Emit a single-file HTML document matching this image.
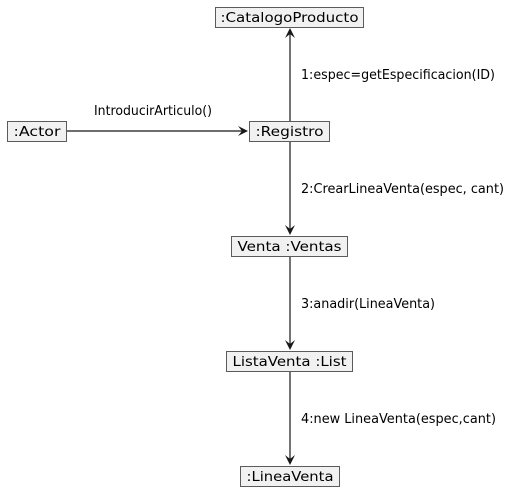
<!DOCTYPE html>
<html><head><meta charset="utf-8"><style>
html,body{margin:0;padding:0;background:#fff;width:525px;height:493px;overflow:hidden}
</style></head><body>
<svg width="525" height="493" xmlns="http://www.w3.org/2000/svg" font-family="DejaVu Sans, sans-serif" font-size="13" fill="#000">
<g fill="#f1f1f1" stroke="#5b5b5b" stroke-width="1">
<rect x="215.5" y="7.5" width="148" height="20"/>
<rect x="7.5" y="121.5" width="59" height="20"/>
<rect x="249.5" y="121.5" width="80" height="20"/>
<rect x="231.5" y="236.5" width="116" height="20"/>
<rect x="226.5" y="351.5" width="126" height="20"/>
<rect x="240.5" y="466.5" width="99" height="20"/>
</g>
<g stroke="#181818" stroke-width="1.2">
<line x1="290" y1="121" x2="290" y2="30"/>
<line x1="67" y1="131" x2="246" y2="131"/>
<line x1="290" y1="142" x2="290" y2="233"/>
<line x1="290" y1="257" x2="290" y2="348"/>
<line x1="290" y1="372" x2="290" y2="463"/>
</g>
<g fill="#181818">
<polygon points="290,28 295,38 290,34 285,38"/>
<polygon points="248,131 238,126 242,131 238,136"/>
<polygon points="290,235 285,225 290,229 295,225"/>
<polygon points="290,350 285,340 290,344 295,340"/>
<polygon points="290,465 285,455 290,459 295,455"/>
</g>
<g text-anchor="middle">
<text x="289.5" y="22" textLength="138" lengthAdjust="spacingAndGlyphs">:CatalogoProducto</text>
<text x="37" y="136" textLength="47" lengthAdjust="spacingAndGlyphs">:Actor</text>
<text x="289.5" y="136" textLength="68" lengthAdjust="spacingAndGlyphs">:Registro</text>
<text x="289.5" y="251" textLength="104" lengthAdjust="spacingAndGlyphs">Venta :Ventas</text>
<text x="289.5" y="366" textLength="114" lengthAdjust="spacingAndGlyphs">ListaVenta :List</text>
<text x="290" y="481" textLength="87" lengthAdjust="spacingAndGlyphs">:LineaVenta</text>
</g>
<g>
<text x="94" y="115" textLength="118" lengthAdjust="spacingAndGlyphs">IntroducirArticulo()</text>
<text x="301" y="79" textLength="194" lengthAdjust="spacingAndGlyphs">1:espec=getEspecificacion(ID)</text>
<text x="301" y="193" textLength="203" lengthAdjust="spacingAndGlyphs">2:CrearLineaVenta(espec, cant)</text>
<text x="301" y="308" textLength="134" lengthAdjust="spacingAndGlyphs">3:anadir(LineaVenta)</text>
<text x="301" y="423" textLength="195" lengthAdjust="spacingAndGlyphs">4:new LineaVenta(espec,cant)</text>
</g>
</svg>
</body></html>
